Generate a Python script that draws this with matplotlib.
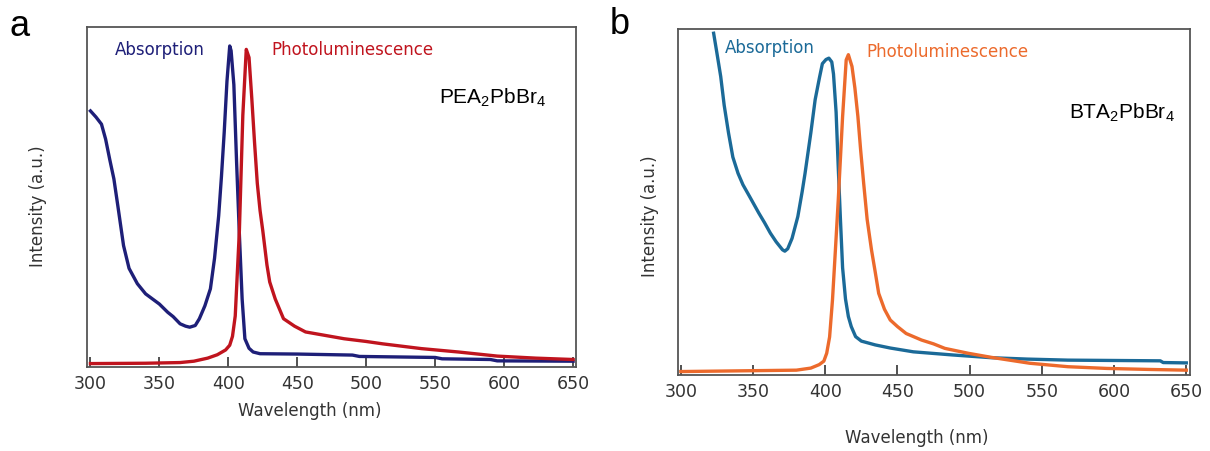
import numpy as np
import matplotlib
matplotlib.use('Agg')
import matplotlib.pyplot as plt

plt.rcParams['mathtext.fontset'] = 'custom'
plt.rcParams['mathtext.rm'] = 'Liberation Sans'
plt.rcParams['mathtext.default'] = 'regular'

# panel a : PEA2PbBr4
abs_a_wl = [300, 304, 308, 311, 314, 317, 320, 324, 328, 334, 340, 345, 350, 356, 360, 365,
            369, 372, 376, 379, 383, 387, 390, 393, 395, 397, 399, 401, 402, 404, 406, 408,
            410, 412, 415, 418, 423, 450, 490, 495, 550, 555, 590, 595, 650]
abs_a = [0.753, 0.735, 0.714, 0.67, 0.61, 0.553, 0.47, 0.357, 0.29, 0.245, 0.215, 0.200, 0.185,
         0.161, 0.148, 0.127, 0.12, 0.117, 0.122, 0.142, 0.18, 0.230, 0.32, 0.445, 0.56, 0.69,
         0.84, 0.944, 0.93, 0.83, 0.6, 0.39, 0.2, 0.083, 0.055, 0.044, 0.039, 0.038, 0.035,
         0.031, 0.028, 0.024, 0.022, 0.018, 0.017]
pl_a_wl = [300, 340, 365, 375, 385, 392, 398, 401, 403, 405, 408, 410.5, 413, 415, 417, 419,
           421, 423, 425, 428, 430, 434, 440, 448, 456, 470, 484, 500, 512, 540, 567, 595, 623, 650]
pl_a = [0.01, 0.011, 0.013, 0.017, 0.026, 0.036, 0.05, 0.064, 0.09, 0.15, 0.40, 0.74, 0.934,
        0.91, 0.79, 0.66, 0.54, 0.46, 0.40, 0.3, 0.25, 0.2, 0.142, 0.12, 0.103, 0.093, 0.083,
        0.075, 0.068, 0.054, 0.044, 0.032, 0.026, 0.022]

# panel b : BTA2PbBr4
abs_b_wl = [322.7, 325, 327.6, 330, 333, 336, 339.6, 343, 347.6, 354, 358, 362, 366, 370.4, 372,
            374, 377, 381, 384, 386, 390, 393, 396, 398, 400.5, 402.5, 404.5, 405.7, 407.5, 409,
            410.5, 412, 414, 416, 418, 421, 425, 434.6, 445, 461, 488, 515, 540, 568, 600, 632,
            634, 650]
abs_b = [0.988, 0.93, 0.863, 0.78, 0.70, 0.63, 0.583, 0.55, 0.516, 0.468, 0.44, 0.41, 0.385,
         0.362, 0.358, 0.365, 0.395, 0.458, 0.53, 0.583, 0.7, 0.796, 0.86, 0.90, 0.912, 0.916,
         0.905, 0.87, 0.76, 0.60, 0.45, 0.31, 0.22, 0.169, 0.14, 0.111, 0.098, 0.087, 0.078,
         0.067, 0.058, 0.05, 0.046, 0.043, 0.042, 0.041, 0.036, 0.035]
pl_b_wl = [300, 340, 380, 390, 395.8, 399, 401, 403, 405, 407, 409, 412, 414.5, 416, 418.5,
           420.5, 422.6, 424.5, 426.6, 429, 432, 434.5, 437, 441, 445, 450, 456, 466.7, 475,
           482.8, 498.8, 515, 541.6, 568, 595, 625, 650]
pl_b = [0.01, 0.012, 0.014, 0.02, 0.03, 0.04, 0.063, 0.11, 0.217, 0.36, 0.506, 0.747, 0.911,
        0.926, 0.892, 0.83, 0.747, 0.65, 0.554, 0.45, 0.362, 0.3, 0.236, 0.19, 0.159, 0.14,
        0.12, 0.101, 0.09, 0.077, 0.063, 0.051, 0.034, 0.024, 0.019, 0.016, 0.014]

xticks = [300, 350, 400, 450, 500, 550, 600, 650]

fig = plt.figure(figsize=(12.1, 4.51), dpi=100)
ax1 = fig.add_axes([0.0719, 0.1863, 0.404, 0.754])
ax2 = fig.add_axes([0.5603, 0.1685, 0.4231, 0.767])

def style(ax, xlim):
    ax.set_xlim(*xlim)
    ax.set_ylim(0, 1)
    ax.set_xticks(xticks)
    ax.set_yticks([])
    ax.tick_params(axis='x', direction='in', length=7, width=1.2, color='#333333',
                   labelsize=12.5, labelcolor='#333333', pad=6)
    for s in ax.spines.values():
        s.set_color('#555555')
        s.set_linewidth(1.3)
    ax.set_ylabel('Intensity (a.u.)', fontsize=12, color='#333333')
    ax.set_xlabel('Wavelength (nm)', fontsize=12, color='#333333')

style(ax1, (297.5, 652))
ax1.plot(abs_a_wl, abs_a, color='#1e1f78', lw=2.4)
ax1.plot(pl_a_wl, pl_a, color='#c0141e', lw=2.4)
ax1.text(0.149, 0.932, 'Absorption', color='#1e1f78', fontsize=12, ha='center', va='center',
         transform=ax1.transAxes)
ax1.text(0.544, 0.932, 'Photoluminescence', color='#c0141e', fontsize=12, ha='center',
         va='center', transform=ax1.transAxes)
ax1.text(0.83, 0.79, 'PEA$_2$PbBr$_4$', fontsize=15, family='Liberation Sans', ha='center',
         va='center', transform=ax1.transAxes)
ax1.yaxis.set_label_coords(-0.082, 0.474)
ax1.xaxis.set_label_coords(0.456, -0.104)

style(ax2, (298, 652.5))
ax2.plot(abs_b_wl, abs_b, color='#1b6a98', lw=2.4)
ax2.plot(pl_b_wl, pl_b, color='#ec6a2c', lw=2.4)
ax2.text(0.18, 0.945, 'Absorption', color='#1b6a98', fontsize=12, ha='center', va='center',
         transform=ax2.transAxes)
ax2.text(0.527, 0.934, 'Photoluminescence', color='#ec6a2c', fontsize=12, ha='center',
         va='center', transform=ax2.transAxes)
ax2.text(0.867, 0.757, 'BTA$_2$PbBr$_4$', fontsize=15, family='Liberation Sans', ha='center',
         va='center', transform=ax2.transAxes)
ax2.yaxis.set_label_coords(-0.037, 0.46)
ax2.xaxis.set_label_coords(0.467, -0.157)

fig.text(20 / 1210, 1 - 26 / 451, 'a', fontsize=26, family='Liberation Sans', ha='center', va='center')
fig.text(620 / 1210, 1 - 24 / 451, 'b', fontsize=26, family='Liberation Sans', ha='center', va='center')

fig.savefig('out.png', dpi=100)
